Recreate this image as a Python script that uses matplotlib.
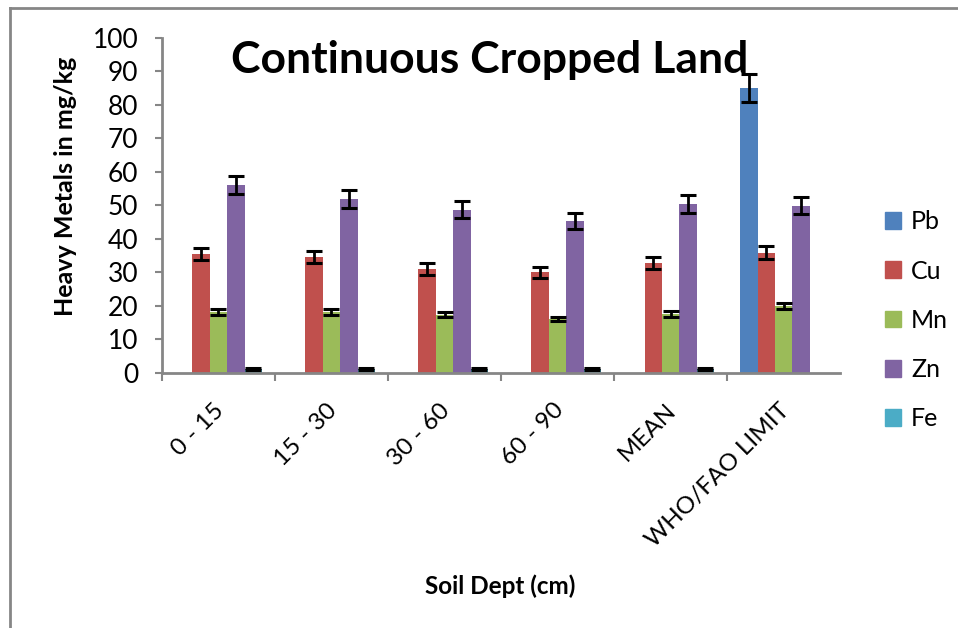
import numpy as np
import matplotlib
matplotlib.use("Agg")
import matplotlib.pyplot as plt
import matplotlib.transforms as mtransforms
from matplotlib.lines import Line2D

plt.rcParams["font.family"] = ["Lato", "DejaVu Sans"]

# Data
categories = ["0 - 15", "15 - 30", "30 - 60", "60 - 90", "MEAN", "WHO/FAO LIMIT"]
metals = ["Pb", "Cu", "Mn", "Zn", "Fe"]

pb = [0, 0, 0, 0, 0, 85.0]
cu = [35.5, 34.7, 31.0, 30.0, 32.8, 35.9]
mn = [18.3, 18.2, 17.4, 16.1, 17.6, 20.0]
zn = [56.1, 51.9, 48.7, 45.3, 50.4, 49.9]
fe = [1.3, 1.3, 1.3, 1.2, 1.2, 0]

pb_err = [0, 0, 0, 0, 0, 4.3]
cu_err = [1.9, 1.8, 1.7, 1.7, 1.8, 1.9]
mn_err = [0.9, 0.9, 0.8, 0.7, 0.8, 0.8]
zn_err = [2.8, 2.6, 2.5, 2.4, 2.6, 2.6]
fe_err = [0.25, 0.25, 0.25, 0.25, 0.25, 0]

values = [pb, cu, mn, zn, fe]
errors = [pb_err, cu_err, mn_err, zn_err, fe_err]
colors = ["#4F81BD", "#C0504D", "#9BBB59", "#8064A2", "#4BACC6"]

fig = plt.figure(figsize=(9.58, 6.28), dpi=100)
ax = fig.add_axes([0.169, 0.406, 0.708, 0.534])

x = np.arange(len(categories))
n = len(metals)
width = 1 / (n + 1.5)

for i, (vals, errs, col, name) in enumerate(zip(values, errors, colors, metals)):
    pos = x + (i - (n - 1) / 2) * width
    ax.bar(pos, vals, width, color=col, label=name, zorder=2)
    mask = np.array(errs) > 0
    ax.errorbar(pos[mask], np.array(vals)[mask], yerr=np.array(errs)[mask],
                fmt="none", ecolor="black", elinewidth=2, capsize=6,
                capthick=2.2, zorder=3)

ax.set_xlim(-0.5, len(categories) - 0.5)
ax.set_ylim(0, 100)
ax.set_yticks(np.arange(0, 101, 10))
ax.tick_params(axis="y", labelsize=19, length=5, width=1.5, color="#868686", pad=12)

ax.set_xticks(x - 0.5, minor=False)
ax.set_xticklabels([])
ax.tick_params(axis="x", length=6, width=1.5, color="#868686")
ax.set_xticks(x, minor=True)
ax.set_xticklabels(categories, minor=True, rotation=45, ha="right", va="top",
                   rotation_mode="anchor", fontsize=17.5)
ax.tick_params(axis="x", which="minor", length=0, pad=19)
shift = mtransforms.ScaledTranslation(-5 / 100, 0, fig.dpi_scale_trans)
for lbl in ax.get_xticklabels(minor=True):
    lbl.set_transform(lbl.get_transform() + shift)

for side in ["top", "right"]:
    ax.spines[side].set_visible(False)
for side in ["left", "bottom"]:
    ax.spines[side].set_color("#868686")
    ax.spines[side].set_linewidth(2)

fig.text(0.068, 0.704, "Heavy Metals in mg/kg", rotation=90, fontsize=18,
         fontweight="bold", ha="center", va="center")
fig.text(0.522, 0.067, "Soil Dept (cm)", fontsize=17.5, fontweight="bold",
         ha="center", va="center")
fig.text(0.511, 0.904, "Continuous Cropped Land", fontsize=32, fontweight="bold",
         ha="center", va="center")

handles = [plt.Rectangle((0, 0), 1, 1, color=c) for c in colors]
fig.legend(handles, metals, loc="center left", bbox_to_anchor=(0.9, 0.49),
           frameon=False, fontsize=18, handlelength=0.65, handleheight=0.65,
           handletextpad=0.4, labelspacing=1.05)

# chart area border (left and top edges visible)
fig.add_artist(Line2D([0.0105, 0.0105], [0, 0.988], transform=fig.transFigure,
                      color="#868686", linewidth=2))
fig.add_artist(Line2D([0.0105, 1], [0.988, 0.988], transform=fig.transFigure,
                      color="#868686", linewidth=2))

fig.savefig("out.png", dpi=100)
